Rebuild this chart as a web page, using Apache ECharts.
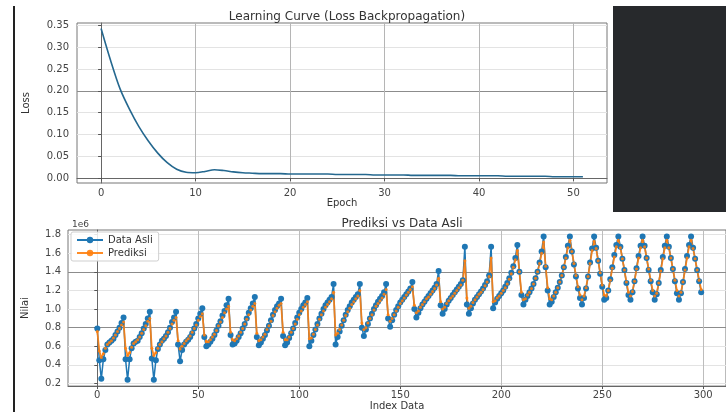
<!DOCTYPE html>
<html>
<head>
<meta charset="utf-8">
<title>Learning Curve / Prediksi vs Data Asli</title>
<script src="https://cdn.jsdelivr.net/npm/echarts@6.0.0/dist/echarts.min.js"></script>
<style>
  html, body { margin: 0; padding: 0; background: #fff; }
  #chart { width: 726px; height: 412px; }
</style>
</head>
<body>
<div id="chart"></div>
<script>
// loss per epoch (epoch = array index)
const lossValues = [
  0.343, 0.270, 0.205, 0.158, 0.118, 0.085, 0.057, 0.035, 0.020, 0.013,
  0.012, 0.015, 0.019, 0.017, 0.014, 0.012, 0.011, 0.010, 0.010, 0.010,
  0.009, 0.009, 0.009, 0.009, 0.009, 0.008, 0.008, 0.008, 0.008, 0.007,
  0.007, 0.007, 0.007, 0.006, 0.006, 0.006, 0.006, 0.006, 0.005, 0.005,
  0.005, 0.005, 0.005, 0.004, 0.004, 0.004, 0.004, 0.004, 0.003, 0.003,
  0.003, 0.003
];
const epochTicks = [0, 10, 20, 30, 40, 50];
const lossTicks = [0, 0.05, 0.10, 0.15, 0.20, 0.25, 0.30, 0.35];

// values in units of 1e6 (index = array position)
const dataAsli = [
  0.79, 0.45, 0.25, 0.46, 0.56, 0.62, 0.64, 0.66, 0.68, 0.72, 0.76, 0.80, 0.85,
  0.91, 0.46, 0.24, 0.46, 0.58, 0.63, 0.65, 0.66, 0.70, 0.74, 0.79, 0.84, 0.90,
  0.97, 0.47, 0.24, 0.45, 0.57, 0.62, 0.66, 0.68, 0.71, 0.75, 0.80, 0.86, 0.91,
  0.97, 0.62, 0.44, 0.56, 0.62, 0.65, 0.67, 0.70, 0.74, 0.79, 0.84, 0.90, 0.95,
  1.01, 0.70, 0.60, 0.62, 0.65, 0.68, 0.72, 0.77, 0.82, 0.87, 0.93, 0.98, 1.04,
  1.11, 0.72, 0.62, 0.63, 0.66, 0.70, 0.74, 0.79, 0.84, 0.90, 0.96, 1.01, 1.06,
  1.13, 0.70, 0.61, 0.64, 0.68, 0.72, 0.77, 0.82, 0.88, 0.94, 0.99, 1.03, 1.06,
  1.11, 0.71, 0.61, 0.64, 0.69, 0.74, 0.79, 0.85, 0.91, 0.96, 1.00, 1.04, 1.07,
  1.12, 0.60, 0.66, 0.72, 0.78, 0.84, 0.90, 0.95, 1.00, 1.04, 1.07, 1.10, 1.13,
  1.27, 0.62, 0.70, 0.76, 0.82, 0.88, 0.94, 0.99, 1.03, 1.07, 1.10, 1.13, 1.16,
  1.27, 0.80, 0.71, 0.78, 0.84, 0.90, 0.95, 1.00, 1.04, 1.08, 1.11, 1.14, 1.18,
  1.27, 0.90, 0.81, 0.88, 0.94, 0.99, 1.03, 1.07, 1.10, 1.13, 1.16, 1.19, 1.22,
  1.29, 1.00, 0.91, 0.96, 1.01, 1.05, 1.08, 1.11, 1.14, 1.17, 1.20, 1.23, 1.27,
  1.41, 1.04, 0.95, 1.00, 1.05, 1.09, 1.12, 1.15, 1.18, 1.21, 1.24, 1.27, 1.31,
  1.67, 1.05, 0.95, 1.01, 1.06, 1.10, 1.13, 1.16, 1.19, 1.22, 1.26, 1.30, 1.36,
  1.67, 1.01, 1.07, 1.11, 1.14, 1.17, 1.20, 1.24, 1.28, 1.33, 1.39, 1.46, 1.55,
  1.69, 1.40, 1.15, 1.05, 1.10, 1.14, 1.18, 1.22, 1.27, 1.33, 1.40, 1.50, 1.62,
  1.78, 1.45, 1.20, 1.05, 1.08, 1.13, 1.18, 1.23, 1.29, 1.36, 1.45, 1.56, 1.68,
  1.78, 1.62, 1.48, 1.35, 1.22, 1.12, 1.05, 1.12, 1.22, 1.35, 1.50, 1.65,
  1.78, 1.66, 1.52, 1.38, 1.24, 1.10, 1.12, 1.20, 1.32, 1.45, 1.58, 1.69,
  1.78, 1.67, 1.54, 1.42, 1.28, 1.15, 1.10, 1.18, 1.30, 1.44, 1.57, 1.68,
  1.78, 1.68, 1.55, 1.42, 1.30, 1.18, 1.10, 1.16, 1.28, 1.42, 1.56, 1.68,
  1.78, 1.67, 1.55, 1.43, 1.30, 1.17, 1.10, 1.17, 1.29, 1.43, 1.57, 1.69,
  1.78, 1.66, 1.54, 1.42, 1.30, 1.18
];
const prediksi = [
  0.76, 0.55, 0.48, 0.52, 0.58, 0.62, 0.64, 0.66, 0.69, 0.72, 0.76, 0.79, 0.83,
  0.86, 0.58, 0.50, 0.53, 0.59, 0.63, 0.65, 0.67, 0.70, 0.74, 0.78, 0.82, 0.87,
  0.90, 0.58, 0.50, 0.53, 0.58, 0.62, 0.65, 0.68, 0.71, 0.75, 0.79, 0.84, 0.88,
  0.91, 0.66, 0.57, 0.60, 0.63, 0.66, 0.68, 0.71, 0.75, 0.79, 0.83, 0.88, 0.92,
  0.95, 0.72, 0.65, 0.65, 0.67, 0.70, 0.73, 0.77, 0.82, 0.86, 0.91, 0.96, 1.00,
  1.03, 0.75, 0.67, 0.66, 0.68, 0.71, 0.75, 0.79, 0.84, 0.89, 0.94, 0.99, 1.03,
  1.06, 0.74, 0.66, 0.67, 0.70, 0.73, 0.78, 0.82, 0.87, 0.93, 0.97, 1.01, 1.04,
  1.06, 0.75, 0.67, 0.67, 0.70, 0.75, 0.79, 0.84, 0.89, 0.94, 0.98, 1.02, 1.05,
  1.08, 0.68, 0.69, 0.73, 0.78, 0.83, 0.89, 0.94, 0.98, 1.02, 1.05, 1.08, 1.11,
  1.18, 0.72, 0.74, 0.78, 0.83, 0.88, 0.93, 0.97, 1.01, 1.05, 1.08, 1.11, 1.14,
  1.20, 0.85, 0.78, 0.80, 0.85, 0.90, 0.94, 0.99, 1.03, 1.06, 1.09, 1.12, 1.16,
  1.21, 0.94, 0.87, 0.90, 0.94, 0.98, 1.02, 1.06, 1.09, 1.12, 1.15, 1.18, 1.21,
  1.24, 1.04, 0.96, 0.98, 1.02, 1.05, 1.08, 1.11, 1.13, 1.16, 1.19, 1.22, 1.26,
  1.33, 1.08, 1.00, 1.02, 1.06, 1.09, 1.12, 1.14, 1.17, 1.20, 1.23, 1.26, 1.31,
  1.52, 1.12, 1.01, 1.03, 1.07, 1.10, 1.13, 1.16, 1.18, 1.21, 1.25, 1.29, 1.35,
  1.55, 1.08, 1.09, 1.12, 1.14, 1.17, 1.20, 1.23, 1.27, 1.32, 1.38, 1.45, 1.53,
  1.63, 1.40, 1.18, 1.10, 1.11, 1.15, 1.18, 1.22, 1.27, 1.33, 1.40, 1.49, 1.60,
  1.72, 1.46, 1.23, 1.11, 1.10, 1.14, 1.18, 1.23, 1.29, 1.36, 1.45, 1.55, 1.66,
  1.74, 1.62, 1.49, 1.36, 1.24, 1.15, 1.10, 1.14, 1.23, 1.35, 1.49, 1.63,
  1.73, 1.65, 1.52, 1.39, 1.26, 1.15, 1.14, 1.20, 1.31, 1.44, 1.56, 1.67,
  1.74, 1.66, 1.54, 1.42, 1.29, 1.18, 1.14, 1.19, 1.30, 1.43, 1.55, 1.66,
  1.74, 1.67, 1.55, 1.43, 1.31, 1.20, 1.14, 1.17, 1.28, 1.41, 1.54, 1.66,
  1.74, 1.66, 1.55, 1.43, 1.31, 1.20, 1.14, 1.18, 1.29, 1.42, 1.55, 1.67,
  1.74, 1.65, 1.54, 1.42, 1.31, 1.21
];
const indexTicks = [0, 50, 100, 150, 200, 250, 300];
const valueTicks = [0.2, 0.4, 0.6, 0.8, 1.0, 1.2, 1.4, 1.6, 1.8];

const FONT = "DejaVu Sans";
const LIGHT = "#e3e3e3";
const DARK = "#8c8c8c";

const chart = echarts.init(document.getElementById("chart"));

function tickAxis(ticks, extra) {
  return Object.assign({
    type: "value",
    axisLine: { show: true, lineStyle: { color: "#666" } },
    axisTick: { show: true, customValues: ticks, length: 3, lineStyle: { color: "#555" } },
    axisLabel: { customValues: ticks, color: "#444", fontFamily: FONT, fontSize: 10 },
    nameTextStyle: { color: "#333", fontFamily: FONT, fontSize: 10 },
  }, extra);
}

const option = {
  animation: false,
  backgroundColor: "#fff",
  title: [
    {
      text: "Learning Curve (Loss Backpropagation)",
      left: 342, top: 6, textAlign: "center",
      textStyle: { fontFamily: FONT, fontSize: 12, fontWeight: "normal", color: "#333" },
    },
    {
      text: "Prediksi vs Data Asli",
      left: 397, top: 213, textAlign: "center",
      textStyle: { fontFamily: FONT, fontSize: 12, fontWeight: "normal", color: "#333" },
    },
  ],
  grid: [
    { left: 77, top: 23, width: 530, height: 160, show: true, borderColor: "#777", borderWidth: 1 },
    { left: 68, top: 230, right: -1, height: 162, show: true, borderColor: "#777", borderWidth: 1 },
  ],
  legend: {
    data: ["Data Asli", "Prediksi"],
    orient: "vertical",
    left: 71, top: 232,
    itemWidth: 26, itemHeight: 8, itemGap: 3,
    padding: [3, 6, 3, 5],
    borderColor: "#cfcfcf", borderWidth: 1, borderRadius: 2,
    backgroundColor: "rgba(255,255,255,0.85)",
    textStyle: { fontFamily: FONT, fontSize: 10, color: "#333" },
  },
  xAxis: [
    tickAxis(epochTicks, {
      gridIndex: 0, min: -2.55, max: 53.55,
      name: "Epoch", nameLocation: "middle", nameGap: 14,
      splitLine: { show: true, lineStyle: { color: "#b5b5b5", width: 1 } },
      axisLabel: { customValues: epochTicks, color: "#444", fontFamily: FONT, fontSize: 10, margin: 5 },
    }),
    tickAxis(indexTicks, {
      gridIndex: 1, min: -14.5, max: 311.3,
      name: "Index Data", nameLocation: "middle", nameGap: 14,
      splitLine: { show: true, lineStyle: { color: "#bdbdbd", width: 1 } },
      axisLabel: { customValues: indexTicks, color: "#444", fontFamily: FONT, fontSize: 10, margin: 4 },
    }),
  ],
  yAxis: [
    tickAxis(lossTicks, {
      gridIndex: 0, min: -0.0115, max: 0.3555,
      name: "Loss", nameLocation: "middle", nameGap: 46, nameRotate: 90,
      splitLine: { show: true, lineStyle: { color: [LIGHT, LIGHT, LIGHT, LIGHT, DARK, LIGHT, LIGHT, LIGHT], width: 1 } },
      axisLabel: { customValues: lossTicks, color: "#444", fontFamily: FONT, fontSize: 10, margin: 8,
        formatter: (v) => v.toFixed(2) },
    }),
    tickAxis(valueTicks, {
      gridIndex: 1, min: 0.172, max: 1.85,
      name: "Nilai", nameLocation: "middle", nameGap: 38, nameRotate: 90,
      splitLine: { show: true, lineStyle: { color: [LIGHT, LIGHT, LIGHT, DARK, LIGHT, LIGHT, DARK, LIGHT, LIGHT], width: 1 } },
      axisLabel: { customValues: valueTicks, color: "#444", fontFamily: FONT, fontSize: 10, margin: 7,
        formatter: (v) => v.toFixed(1) },
    }),
  ],
  graphic: [
    // left frame line of the screenshot
    { type: "rect", shape: { x: 13, y: 6, width: 2, height: 406 }, style: { fill: "#222" }, z: 100 },
    // dark panel on the right
    { type: "rect", shape: { x: 613, y: 6, width: 113, height: 206 }, style: { fill: "#27292c" }, z: 100 },
    // scale offset text
    { type: "text", x: 72, y: 220, style: { text: "1e6", fontFamily: FONT, fontSize: 9, fill: "#444" }, z: 100 },
  ],
  series: [
    {
      name: "Loss",
      type: "line",
      xAxisIndex: 0, yAxisIndex: 0,
      data: lossValues.map((v, i) => [i, v]),
      showSymbol: false,
      smooth: 0.3,
      lineStyle: { color: "#25688f", width: 1.6 },
      itemStyle: { color: "#25688f" },
    },
    {
      name: "Data Asli",
      type: "line",
      xAxisIndex: 1, yAxisIndex: 1,
      data: dataAsli.map((v, i) => [i, v]),
      symbol: "circle", symbolSize: 6, showAllSymbol: true,
      lineStyle: { color: "#1f77b4", width: 1.5 },
      itemStyle: { color: "#1f77b4" },
    },
    {
      name: "Prediksi",
      type: "line",
      xAxisIndex: 1, yAxisIndex: 1,
      data: prediksi.map((v, i) => [i, v]),
      symbol: "circle", symbolSize: 3, showAllSymbol: true,
      lineStyle: { color: "#ff7f0e", width: 1.8, opacity: 0.9 },
      itemStyle: { color: "#ff7f0e", opacity: 0.9 },
    },
  ],
};

chart.setOption(option);
</script>
</body>
</html>
